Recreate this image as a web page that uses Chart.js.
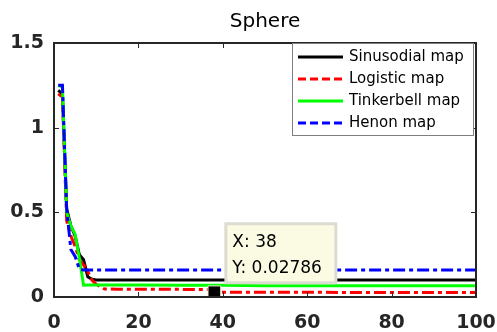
<!DOCTYPE html>
<html>
<head>
<meta charset="utf-8">
<style>
  html, body { margin: 0; padding: 0; background: #fff; }
  #wrap { width: 497px; height: 332px; }
</style>
<script src="https://cdn.jsdelivr.net/npm/chart.js@4.4.1/dist/chart.umd.min.js"></script>
</head>
<body>
<div id="wrap"><canvas id="sphereChart" width="497" height="332"></canvas></div>
<script>
// Convergence curves on the Sphere function, one per chaotic map
const iterations = [1, 2, 3, 4, 5, 6, 7, 8, 9, 10, 11, 12, 15, 20, 30, 37, 38, 40, 50, 60, 70, 80, 90, 100];
const sinusodial = [1.22, 1.2, 0.52, 0.42, 0.36, 0.25, 0.22, 0.12, 0.105, 0.1, 0.1, 0.1, 0.1, 0.1, 0.1, 0.1, 0.1, 0.1, 0.1, 0.1, 0.1, 0.1, 0.1, 0.1];
const logistic = [1.2, 1.18, 0.45, 0.36, 0.3, 0.22, 0.19, 0.15, 0.1, 0.075, 0.06, 0.047, 0.046, 0.046, 0.045, 0.045, 0.02786, 0.02786, 0.02786, 0.02786, 0.027, 0.027, 0.027, 0.027];
const tinkerbell = [1.25, 1.24, 0.5, 0.42, 0.37, 0.23, 0.07, 0.071, 0.071, 0.071, 0.071, 0.071, 0.071, 0.071, 0.07, 0.07, 0.07, 0.07, 0.066, 0.066, 0.066, 0.066, 0.066, 0.066];
const henon = [1.25, 1.25, 0.52, 0.28, 0.24, 0.165, 0.16, 0.16, 0.16, 0.16, 0.16, 0.16, 0.16, 0.16, 0.16, 0.16, 0.16, 0.16, 0.16, 0.16, 0.16, 0.16, 0.16, 0.16];
const seriesNames = ['Sinusodial map', 'Logistic map', 'Tinkerbell map', 'Henon map'];
const seriesColors = ['#000000', '#ff0000', '#00ff00', '#0000ff'];
const xTicks = [0, 20, 40, 60, 80, 100];
const yTicks = [0, 0.5, 1, 1.5];
// data tip pinned on the logistic curve
const tipX = 38;
const tipY = 0.02786;

const FONT = "'DejaVu Sans', Verdana, sans-serif";
const AXIS_COLOR = '#262626';

function points(ys) {
    return iterations.map((x, i) => ({ x: x, y: ys[i] }));
}

const dashes = [[], [12, 4, 4, 4], [], [12, 4, 4, 4]];
const allSeries = [sinusodial, logistic, tinkerbell, henon];

const lineSets = allSeries.map((ys, i) => ({
    label: seriesNames[i],
    data: points(ys),
    borderColor: seriesColors[i],
    backgroundColor: seriesColors[i],
    borderWidth: 3,
    borderDash: dashes[i],
    pointRadius: 0,
    tension: 0,
    order: 4 - i
}));

lineSets.push({
    label: 'tip',
    type: 'scatter',
    data: [{ x: tipX, y: tipY }],
    pointStyle: 'rect',
    pointRadius: 9,
    backgroundColor: '#000000',
    borderColor: '#f2f0c8',
    borderWidth: 1,
    order: 0
});

// title, box, inward ticks, legend and data tip in MATLAB style
const matlabAxes = {
    id: 'matlabAxes',
    afterDraw(chart) {
        const ctx = chart.ctx;
        const a = chart.chartArea;
        const xs = chart.scales.x, ys = chart.scales.y;
        const tl = 5;
        ctx.save();

        ctx.fillStyle = '#000000';
        ctx.font = '20px ' + FONT;
        ctx.textAlign = 'center';
        ctx.textBaseline = 'middle';
        ctx.fillText('Sphere', (a.left + a.right) / 2, 22);

        ctx.strokeStyle = AXIS_COLOR;
        ctx.lineWidth = 1;
        ctx.beginPath();
        xTicks.forEach(v => {
            const px = Math.round(xs.getPixelForValue(v)) + 0.5;
            ctx.moveTo(px, a.bottom); ctx.lineTo(px, a.bottom - tl);
            ctx.moveTo(px, a.top); ctx.lineTo(px, a.top + tl);
        });
        yTicks.forEach(v => {
            const py = Math.round(ys.getPixelForValue(v)) + 0.5;
            ctx.moveTo(a.left, py); ctx.lineTo(a.left + tl, py);
            ctx.moveTo(a.right, py); ctx.lineTo(a.right - tl, py);
        });
        ctx.stroke();
        ctx.lineWidth = 2;
        ctx.strokeRect(a.left, a.top, a.right - a.left, a.bottom - a.top);

        // legend
        const lx = a.right - 184, ly = a.top, lw = 181, lh = 92;
        ctx.fillStyle = '#ffffff';
        ctx.fillRect(lx, ly, lw, lh);
        ctx.strokeStyle = '#7f7f7f';
        ctx.lineWidth = 1;
        ctx.strokeRect(lx + 0.5, ly + 0.5, lw, lh);
        ctx.font = '15px ' + FONT;
        ctx.textBaseline = 'middle';
        ctx.textAlign = 'left';
        seriesNames.forEach((name, i) => {
            const y = ly + 14 + i * 22;
            ctx.strokeStyle = seriesColors[i];
            ctx.lineWidth = 3;
            ctx.setLineDash(dashes[i].length ? [8, 4] : []);
            ctx.beginPath();
            ctx.moveTo(lx + 6, y);
            ctx.lineTo(lx + 51, y);
            ctx.stroke();
            ctx.setLineDash([]);
            ctx.fillStyle = '#000000';
            ctx.fillText(name, lx + 57, y);
        });

        // data tip
        const mx = xs.getPixelForValue(tipX), my = ys.getPixelForValue(tipY);
        const bx = mx + 11, by = my - 69;
        ctx.fillStyle = '#fbfbe4';
        ctx.fillRect(bx, by, 110, 59);
        ctx.strokeStyle = '#dcdcd0';
        ctx.strokeRect(bx + 0.5, by + 0.5, 110, 59);
        ctx.fillStyle = '#000000';
        ctx.font = '17px ' + FONT;
        ctx.textBaseline = 'alphabetic';
        ctx.fillText('X: ' + tipX, bx + 7, by + 24);
        ctx.fillText('Y: ' + tipY, bx + 7, by + 50);
        ctx.restore();
    }
};

new Chart(document.getElementById('sphereChart').getContext('2d'), {
    type: 'line',
    data: { datasets: lineSets },
    options: {
        responsive: false,
        animation: false,
        devicePixelRatio: 1,
        layout: { padding: { left: 0, right: 21, top: 43, bottom: 0 } },
        plugins: {
            legend: { display: false },
            tooltip: { enabled: false },
            title: { display: false }
        },
        scales: {
            x: {
                type: 'linear',
                min: 0,
                max: 100,
                afterFit(scale) {
                    scale.height = 35;
                    scale.paddingLeft = 0;
                    scale.paddingRight = 0;
                },
                afterBuildTicks(scale) { scale.ticks = xTicks.map(v => ({ value: v })); },
                grid: { display: false, drawTicks: false },
                border: { display: false },
                ticks: {
                    color: AXIS_COLOR,
                    padding: 15,
                    maxRotation: 0,
                    callback: v => String(v),
                    font: { family: FONT, size: 19, weight: 'bold' }
                }
            },
            y: {
                type: 'linear',
                min: 0,
                max: 1.5,
                afterFit(scale) {
                    scale.width = 54;
                    scale.paddingTop = 0;
                    scale.paddingBottom = 0;
                },
                afterBuildTicks(scale) { scale.ticks = yTicks.map(v => ({ value: v })); },
                grid: { display: false, drawTicks: false },
                border: { display: false },
                ticks: {
                    color: AXIS_COLOR,
                    padding: 10,
                    callback: v => String(v),
                    font: { family: FONT, size: 19, weight: 'bold' }
                }
            }
        }
    },
    plugins: [matlabAxes]
});
</script>
</body>
</html>
